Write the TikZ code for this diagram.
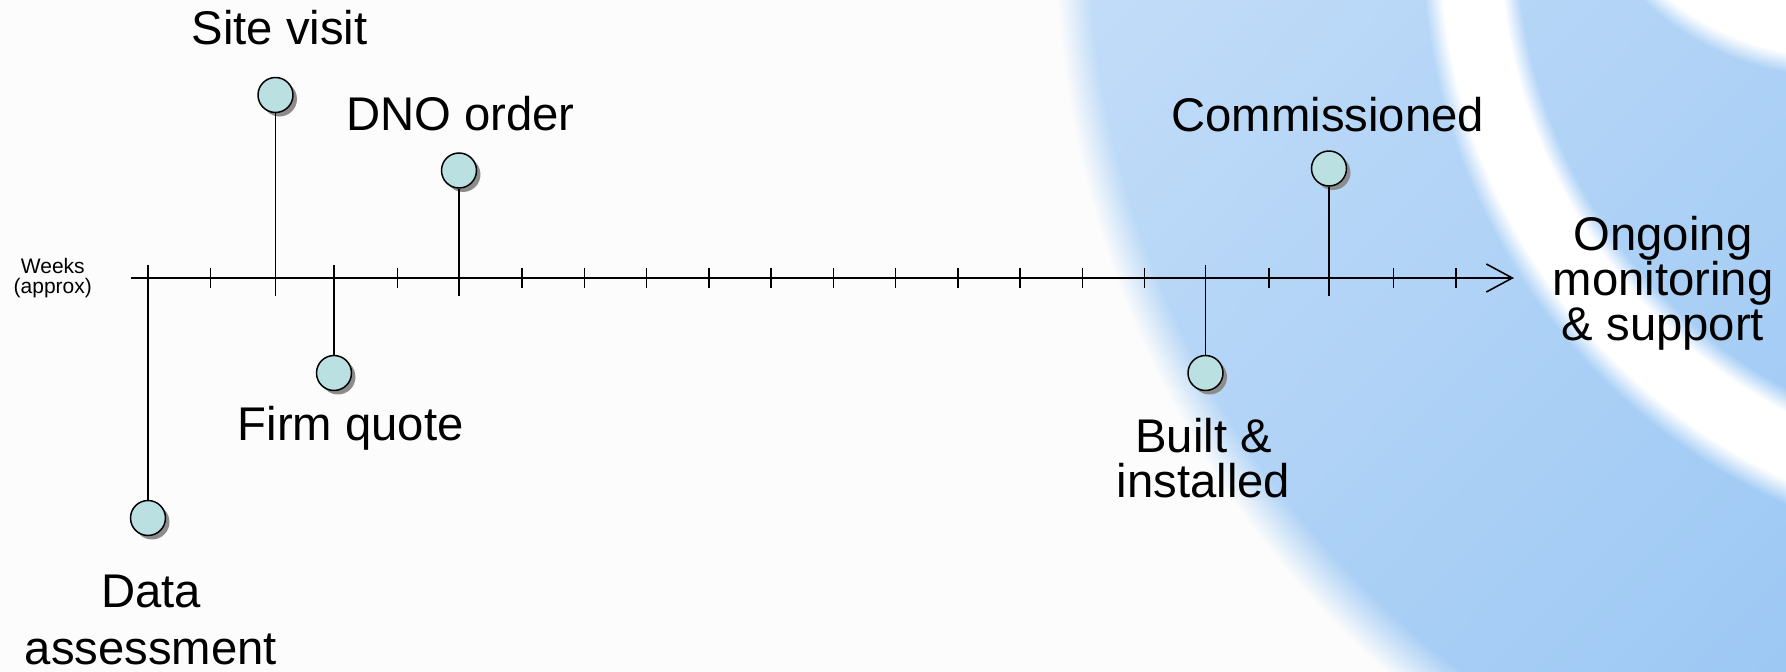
\documentclass[tikz,border=0pt]{standalone}
\usepackage{fontspec}
\setmainfont{Liberation Sans}
\usetikzlibrary{arrows.meta, shadows}

\definecolor{bgwhite}{RGB}{252,252,252}
\definecolor{ringblue}{RGB}{138,190,242}
\definecolor{paleblue}{RGB}{212,230,250}
\definecolor{dotfill}{RGB}{186,224,226}
\definecolor{shadowgray}{RGB}{140,140,140}

% soft blue bands of the background
\pgfdeclareradialshading{bands}{\pgfpoint{0bp}{0bp}}{color(0bp)=(ringblue); color(5.74bp)=(ringblue); color(6.05bp)=(white); color(6.73bp)=(white); color(7.07bp)=(ringblue); color(10.35bp)=(ringblue); color(11.1bp)=(bgwhite); color(25bp)=(bgwhite); color(50bp)=(bgwhite)}
\pgfdeclareradialshading{cornerglow}{\pgfpoint{0bp}{0bp}}{color(0bp)=(white); color(22bp)=(white); color(24.5bp)=(ringblue); color(50bp)=(ringblue)}

\tikzset{
  milestone/.style={circle, draw=black, line width=0.85pt, fill=dotfill, minimum size=0.7cm, inner sep=0pt,
    drop shadow={shadow xshift=0.08cm, shadow yshift=-0.08cm, fill=shadowgray, opacity=1}},
  stem/.style={line width=0.75pt},
  lbl/.style={font=\fontsize{26.9}{25.6}\selectfont, inner sep=0pt, align=center}
}

\begin{document}
\begin{tikzpicture}[x=0.02cm, y=-0.02cm]
    \useasboundingbox (0,0) rectangle (1786,672);

    % Background
    \fill[bgwhite] (0,0) rectangle (1786,672);
    \begin{scope}
        \clip (0,0) rectangle (1786,672);
        \shade[shading=bands] (2032,-60) circle (2200);
        \shade[shading=cornerglow] (1830,-200) circle (290);
        % lighter towards the top left
        \begin{scope}[transform canvas={rotate around={-44.4:(1443,336)}}]
            \shade[blend mode=lighten, left color=paleblue, right color=ringblue] (483,-964) rectangle (2403,1636);
        \end{scope}
    \end{scope}

    % Time axis
    \coordinate (start) at (131,278);
    \coordinate (end) at (1514,278);
    \draw[line width=0.9pt, -{Straight Barb[length=0.52cm, width=0.56cm]}] (start) -- (end);
    \foreach \i in {1,4,6,7,8,9,10,11,12,13,14,15,16,18,20,21}
        \draw[line width=0.85pt] ({148.5+62.25*\i},268) -- ++(0,20);
    \node[font=\fontsize{11.95}{11.75}\selectfont, align=center, inner sep=0pt, anchor=base] (weeks) at (52.8,294) {Weeks\\(approx)};

    % Stem ends beside the axis
    \coordinate (hi) at (0,265);
    \coordinate (lo) at (0,296);

    % Milestones
    \node[milestone] (data) at (148,518) {};
    \node[milestone] (site) at (275.5,95) {};
    \node[milestone] (quote) at (334,373) {};
    \node[milestone] (dno) at (459,170.5) {};
    \node[milestone] (built) at (1205.5,373) {};
    \node[milestone] (comm) at (1329,168.5) {};

    \draw[stem] (data |- hi) -- (data);
    \draw[stem] (site) -- (site |- lo);
    \draw[stem] (quote |- hi) -- (quote);
    \draw[stem] (dno) -- (dno |- lo);
    \draw[stem] (built |- hi) -- (built);
    \draw[stem] (comm) -- (comm |- lo);

    % Labels (multi-line ones sit on their last line)
    \node[lbl, anchor=base] (site-lbl) at (279.6,45) {Site visit};
    \node[lbl, anchor=base] (dno-lbl) at (460.5,130.7) {DNO order};
    \node[lbl, anchor=base] (quote-lbl) at (350.7,440.6) {Firm quote};
    \node[lbl, anchor=base] (data-lbl) at (151,664) {Data\\[0.24cm]assessment};
    \node[lbl, anchor=base] (comm-lbl) at (1327.7,132) {Commissioned};
    \node[lbl, anchor=base] (built-lbl) at (1203.6,497) {Built \&\\installed};
    \node[lbl, anchor=base] (ongoing-lbl) at (1663,340.7) {Ongoing\\monitoring\\\& support};

\end{tikzpicture}
\end{document}
